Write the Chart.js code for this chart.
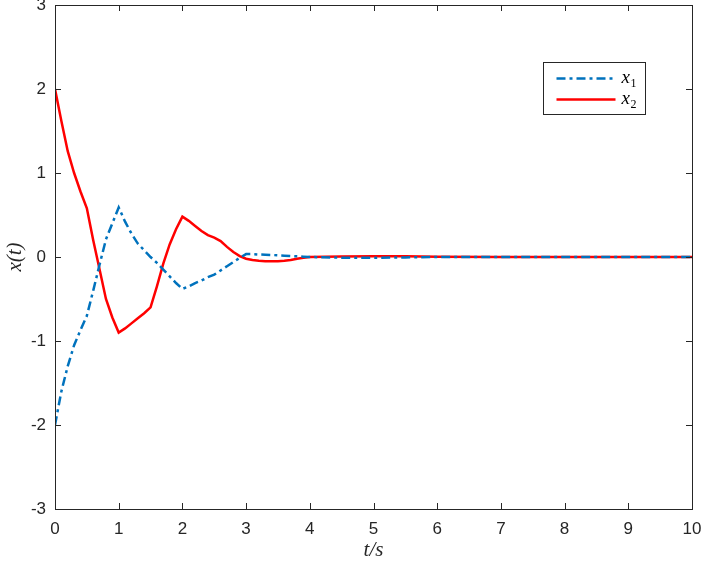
<!DOCTYPE html>
<html>
<head>
<meta charset="utf-8">
<script src="https://cdn.jsdelivr.net/npm/chart.js@4.4.1/dist/chart.umd.min.js"></script>
<style>
	html, body { margin: 0; padding: 0; background: #fff; }
</style>
</head>
<body>
<canvas id="myChart" width="702" height="568"></canvas>
<script>
// time samples (s)
const tValues = [
	0, 0.1, 0.2, 0.3, 0.4, 0.5, 0.6, 0.7, 0.8, 0.9,
	1.0, 1.1, 1.2, 1.3, 1.4, 1.5, 1.6, 1.7, 1.8, 1.9,
	2.0, 2.1, 2.2, 2.3, 2.4, 2.5, 2.6, 2.7, 2.8, 2.9,
	3.0, 3.1, 3.2, 3.3, 3.4, 3.5, 3.6, 3.7, 3.8, 3.9,
	4.0, 4.5, 5.0, 5.5, 6.0, 7.0, 8.0, 9.0, 10.0
];
// x1(t)
const x1Values = [
	-2.0, -1.6, -1.3, -1.05, -0.87, -0.7, -0.4, -0.09, 0.21, 0.4,
	0.59, 0.42, 0.28, 0.16, 0.08, 0.0, -0.07, -0.15, -0.23, -0.31,
	-0.38, -0.35, -0.31, -0.28, -0.24, -0.21, -0.16, -0.11, -0.06, -0.01,
	0.035, 0.035, 0.03, 0.027, 0.024, 0.02, 0.016, 0.012, 0.008, 0.004,
	0.0, -0.008, -0.01, -0.005, 0.0, 0.0, 0.0, 0.0, 0.0
];
// x2(t)
const x2Values = [
	2.0, 1.62, 1.26, 1.0, 0.78, 0.58, 0.2, -0.15, -0.5, -0.72,
	-0.9, -0.85, -0.79, -0.73, -0.67, -0.6, -0.35, -0.08, 0.15, 0.33,
	0.48, 0.43, 0.37, 0.31, 0.26, 0.23, 0.19, 0.12, 0.06, 0.01,
	-0.02, -0.035, -0.045, -0.05, -0.05, -0.05, -0.045, -0.035, -0.02, -0.01,
	0.0, 0.006, 0.01, 0.008, 0.003, 0.0, 0.0, 0.0, 0.0
];
const xTicks = [0, 1, 2, 3, 4, 5, 6, 7, 8, 9, 10];
const yTicks = [-3, -2, -1, 0, 1, 2, 3];
const seriesNames = ["x1", "x2"];

const axisColor = "#262626";
const blue = "#0072BD";
const red = "#FF0000";

// drop the extra room chart.js keeps for the end labels
function noLabelPadding(scale) {
	scale.paddingTop = 0;
	scale.paddingBottom = 0;
	scale.paddingLeft = 0;
	scale.paddingRight = 0;
}

// box around the plot with ticks pointing inward (also top and right)
const boxPlugin = {
	id: "box",
	afterDraw(chart) {
		const { ctx, chartArea: a, scales } = chart;
		ctx.save();
		ctx.strokeStyle = axisColor;
		ctx.lineWidth = 1;
		ctx.beginPath();
		xTicks.forEach((v) => {
			const px = Math.round(scales.x.getPixelForValue(v)) + 0.5;
			ctx.moveTo(px, a.bottom); ctx.lineTo(px, a.bottom - 6);
			ctx.moveTo(px, a.top); ctx.lineTo(px, a.top + 6);
		});
		yTicks.forEach((v) => {
			const py = Math.round(scales.y.getPixelForValue(v)) + 0.5;
			ctx.moveTo(a.left, py); ctx.lineTo(a.left + 6, py);
			ctx.moveTo(a.right, py); ctx.lineTo(a.right - 6, py);
		});
		ctx.stroke();
		ctx.strokeRect(Math.round(a.left) + 0.5, Math.round(a.top) + 0.5,
			Math.round(a.right - a.left), Math.round(a.bottom - a.top));

		// legend
		const lx = 543.5, ly = 62.5, lw = 102, lh = 52;
		ctx.fillStyle = "#fff";
		ctx.fillRect(lx, ly, lw, lh);
		ctx.strokeStyle = axisColor;
		ctx.strokeRect(lx, ly, lw, lh);
		chart.data.datasets.forEach((ds, i) => {
			const y = ly + 16 + i * 21;
			ctx.strokeStyle = ds.borderColor;
			ctx.lineWidth = ds.borderWidth;
			ctx.setLineDash(ds.borderDash || []);
			ctx.beginPath();
			ctx.moveTo(lx + 13, y);
			ctx.lineTo(lx + 72, y);
			ctx.stroke();
			ctx.setLineDash([]);
			ctx.fillStyle = "#000";
			ctx.textBaseline = "alphabetic";
			ctx.font = "italic 19px 'Liberation Serif'";
			ctx.fillText("x", lx + 78, y + 4);
			ctx.font = "12px 'Liberation Serif'";
			ctx.fillText(String(i + 1), lx + 87, y + 8);
		});
		ctx.restore();
	}
};

new Chart(document.getElementById("myChart"), {
	type: "line",
	data: {
		datasets: [
			{
				label: seriesNames[0],
				data: tValues.map((t, i) => ({ x: t, y: x1Values[i] })),
				borderColor: blue,
				borderWidth: 2.5,
				borderDash: [9, 4, 3, 4],
				pointRadius: 0,
				tension: 0,
				fill: false,
			},
			{
				label: seriesNames[1],
				data: tValues.map((t, i) => ({ x: t, y: x2Values[i] })),
				borderColor: red,
				borderWidth: 2.5,
				pointRadius: 0,
				tension: 0,
				fill: false,
			},
		],
	},
	options: {
		responsive: false,
		animation: false,
		devicePixelRatio: 1,
		layout: { padding: { top: 5, right: 10, left: 0, bottom: 0 } },
		plugins: {
			legend: { display: false },
			tooltip: { enabled: false },
		},
		scales: {
			x: {
				type: "linear",
				min: 0,
				max: 10,
				afterBuildTicks: (scale) => { scale.ticks = xTicks.map((v) => ({ value: v })); },
				afterFit: (scale) => { scale.height = 59; noLabelPadding(scale); },
				grid: { display: false, drawTicks: false },
				border: { display: false },
				ticks: {
					padding: 10,
					color: axisColor,
					font: { family: "'Liberation Sans'", size: 17 },
				},
				title: {
					display: true,
					text: "t/s",
					color: axisColor,
					padding: { top: 2, bottom: 5 },
					font: { family: "'Liberation Serif'", style: "italic", size: 21 },
				},
			},
			y: {
				type: "linear",
				min: -3,
				max: 3,
				afterBuildTicks: (scale) => { scale.ticks = yTicks.map((v) => ({ value: v })); },
				afterFit: (scale) => { scale.width = 55; noLabelPadding(scale); },
				grid: { display: false, drawTicks: false },
				border: { display: false },
				ticks: {
					padding: 9,
					color: axisColor,
					font: { family: "'Liberation Sans'", size: 17 },
				},
				title: {
					display: true,
					text: "x(t)",
					color: axisColor,
					padding: { top: 3, bottom: 2 },
					font: { family: "'Liberation Serif'", style: "italic", size: 21 },
				},
			},
		},
	},
	plugins: [boxPlugin],
});
</script>
</body>
</html>
